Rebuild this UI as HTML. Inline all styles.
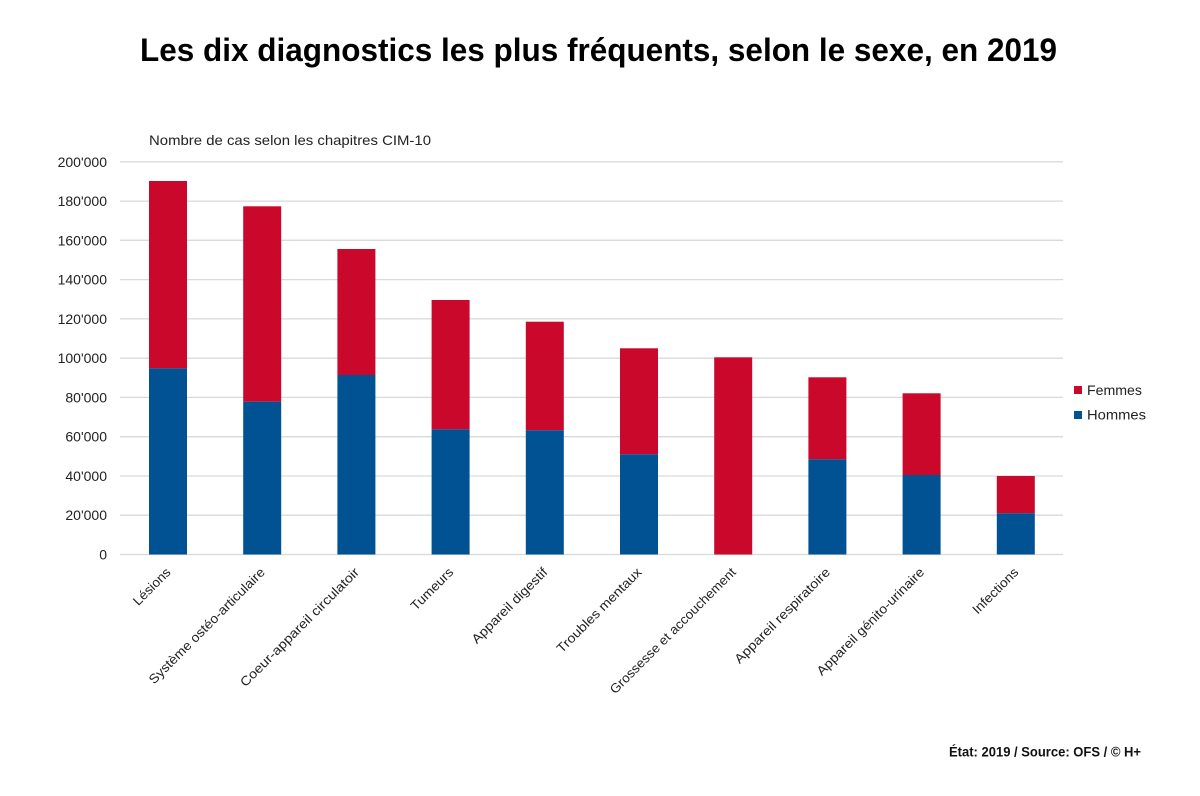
<!DOCTYPE html>
<html>
<head>
<meta charset="utf-8">
<style>
html,body{margin:0;padding:0;background:#fff;}
svg{display:block;font-family:"Liberation Sans",sans-serif;}
</style>
</head>
<body>
<svg width="1200" height="796" viewBox="0 0 1200 796" xmlns="http://www.w3.org/2000/svg">
<rect width="1200" height="796" fill="#fff"/>
<!-- Title -->
<text x="140" y="61" font-size="32" font-weight="bold" fill="#000" textLength="917" lengthAdjust="spacingAndGlyphs">Les dix diagnostics les plus fréquents, selon le sexe, en 2019</text>
<!-- Subtitle -->
<text x="149" y="145" font-size="14" fill="#222" textLength="282" lengthAdjust="spacingAndGlyphs">Nombre de cas selon les chapitres CIM-10</text>

<!-- Gridlines -->
<g stroke="#d9d9d9" stroke-width="1.3">
<line x1="120" x2="1063" y1="161.8" y2="161.8"/>
<line x1="120" x2="1063" y1="201.1" y2="201.1"/>
<line x1="120" x2="1063" y1="240.3" y2="240.3"/>
<line x1="120" x2="1063" y1="279.6" y2="279.6"/>
<line x1="120" x2="1063" y1="318.9" y2="318.9"/>
<line x1="120" x2="1063" y1="358.2" y2="358.2"/>
<line x1="120" x2="1063" y1="397.4" y2="397.4"/>
<line x1="120" x2="1063" y1="436.7" y2="436.7"/>
<line x1="120" x2="1063" y1="476.0" y2="476.0"/>
<line x1="120" x2="1063" y1="515.2" y2="515.2"/>
<line x1="120" x2="1063" y1="554.5" y2="554.5"/>
</g>

<!-- Y labels -->
<g font-size="14" fill="#222" text-anchor="end">
<text x="107" y="166.8">200'000</text>
<text x="107" y="206.1">180'000</text>
<text x="107" y="245.3">160'000</text>
<text x="107" y="284.6">140'000</text>
<text x="107" y="323.9">120'000</text>
<text x="107" y="363.2">100'000</text>
<text x="107" y="402.4">80'000</text>
<text x="107" y="441.7">60'000</text>
<text x="107" y="481.0">40'000</text>
<text x="107" y="520.2">20'000</text>
<text x="107" y="559.5">0</text>
</g>

<!-- Bars -->
<g>
<rect x="149" y="181" width="38" height="187.3" fill="#c9082b"/>
<rect x="149" y="368.3" width="38" height="186.2" fill="#005293"/>
<rect x="243.2" y="206.3" width="38" height="195.4" fill="#c9082b"/>
<rect x="243.2" y="401.7" width="38" height="152.8" fill="#005293"/>
<rect x="337.4" y="249" width="38" height="126" fill="#c9082b"/>
<rect x="337.4" y="375" width="38" height="179.5" fill="#005293"/>
<rect x="431.6" y="300" width="38" height="129.3" fill="#c9082b"/>
<rect x="431.6" y="429.3" width="38" height="125.2" fill="#005293"/>
<rect x="525.8" y="321.7" width="38" height="108.6" fill="#c9082b"/>
<rect x="525.8" y="430.3" width="38" height="124.2" fill="#005293"/>
<rect x="620" y="348.3" width="38" height="106" fill="#c9082b"/>
<rect x="620" y="454.3" width="38" height="100.2" fill="#005293"/>
<rect x="714.2" y="357.3" width="38" height="197.2" fill="#c9082b"/>
<rect x="808.4" y="377.3" width="38" height="82" fill="#c9082b"/>
<rect x="808.4" y="459.3" width="38" height="95.2" fill="#005293"/>
<rect x="902.6" y="393.3" width="38" height="81.7" fill="#c9082b"/>
<rect x="902.6" y="475" width="38" height="79.5" fill="#005293"/>
<rect x="996.8" y="476" width="38" height="37.3" fill="#c9082b"/>
<rect x="996.8" y="513.3" width="38" height="41.2" fill="#005293"/>
</g>

<!-- X labels -->
<g font-size="13" fill="#222" text-anchor="end">
<text transform="translate(171.5,573) rotate(-45)" textLength="47" lengthAdjust="spacingAndGlyphs">Lésions</text>
<text transform="translate(265.7,573) rotate(-45)" textLength="158" lengthAdjust="spacingAndGlyphs">Système ostéo-articulaire</text>
<text transform="translate(359.9,573) rotate(-45)" textLength="162" lengthAdjust="spacingAndGlyphs">Coeur-appareil circulatoir</text>
<text transform="translate(454.1,573) rotate(-45)" textLength="54" lengthAdjust="spacingAndGlyphs">Tumeurs</text>
<text transform="translate(548.3,573) rotate(-45)" textLength="101" lengthAdjust="spacingAndGlyphs">Appareil digestif</text>
<text transform="translate(642.5,573) rotate(-45)" textLength="114" lengthAdjust="spacingAndGlyphs">Troubles mentaux</text>
<text transform="translate(736.7,573) rotate(-45)" textLength="172" lengthAdjust="spacingAndGlyphs">Grossesse et accouchement</text>
<text transform="translate(830.9,573) rotate(-45)" textLength="129" lengthAdjust="spacingAndGlyphs">Appareil respiratoire</text>
<text transform="translate(925.1,573) rotate(-45)" textLength="146" lengthAdjust="spacingAndGlyphs">Appareil génito-urinaire</text>
<text transform="translate(1019.3,573) rotate(-45)" textLength="59" lengthAdjust="spacingAndGlyphs">Infections</text>
</g>

<!-- Legend -->
<rect x="1074" y="386" width="8" height="8" fill="#c9082b"/>
<text x="1087" y="395" font-size="14" fill="#222" textLength="55" lengthAdjust="spacingAndGlyphs">Femmes</text>
<rect x="1074" y="411" width="8" height="8" fill="#005293"/>
<text x="1087" y="419.5" font-size="14" fill="#222" textLength="59" lengthAdjust="spacingAndGlyphs">Hommes</text>

<!-- Source -->
<text x="949" y="756.5" font-size="13.5" font-weight="bold" fill="#111" textLength="192" lengthAdjust="spacingAndGlyphs">État: 2019 / Source: OFS / © H+</text>
</svg>
</body>
</html>
